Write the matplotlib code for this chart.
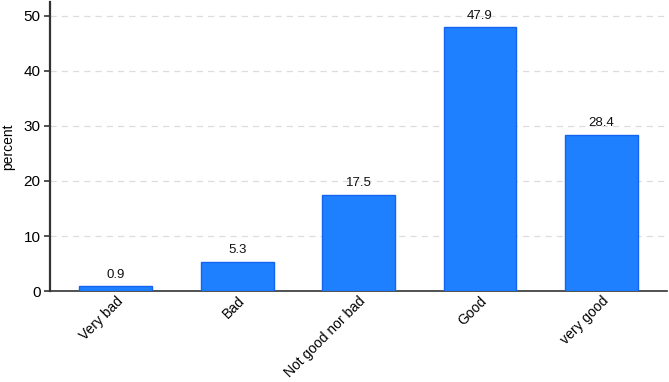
import numpy as np
import matplotlib
matplotlib.use("Agg")
import matplotlib.pyplot as plt

# answer categories and share of respondents (percent)
categories = ["Very bad", "Bad", "Not good nor bad", "Good", "very good"]
percent = [0.9, 5.3, 17.5, 47.9, 28.4]
yticks = [0, 10, 20, 30, 40, 50]

plt.rcParams['font.family'] = ['Liberation Sans', 'DejaVu Sans']

fig = plt.figure(figsize=(6.69, 3.82), dpi=100)
ax = fig.add_axes([0.075, 0.238, 0.922, 0.757])

x = np.arange(len(categories))
bars = ax.bar(x, percent, width=0.6, color='#1e80ff', edgecolor='#1464f0',
              linewidth=1.0, zorder=3)
for b, v in zip(bars, percent):
    ax.text(b.get_x() + b.get_width() / 2, v + 1.0, "%.1f" % v,
            ha='center', va='bottom', fontsize=9.5, color='#111111')

ax.set_xlim(-0.54, 4.54)
ax.set_ylim(0, 52.5)
ax.set_yticks(yticks)
ax.set_xticks(x)
ax.set_xticklabels(categories, rotation=45, ha='right', rotation_mode='anchor',
                   fontsize=10)
ax.tick_params(axis='x', length=0, pad=2)
ax.tick_params(axis='y', length=4, width=1.2, color='#333333', labelsize=11,
               pad=3)
ax.set_ylabel("percent", fontsize=10, labelpad=6)

ax.grid(axis='y', linestyle=(0, (5, 4)), color='#dddddd', linewidth=0.9, zorder=0)
for s in ['top', 'right']:
    ax.spines[s].set_visible(False)
ax.spines['left'].set_color('#333333')
ax.spines['left'].set_linewidth(1.6)
ax.spines['bottom'].set_color('#333333')
ax.spines['bottom'].set_linewidth(1.2)

fig.savefig("out.png", dpi=100)
